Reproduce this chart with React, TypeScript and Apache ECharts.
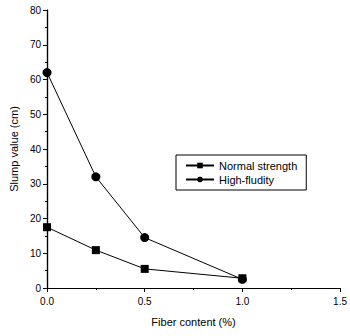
import React, { useEffect, useRef } from "react";
import * as echarts from "echarts";

const fiberContent = [0, 0.25, 0.5, 1.0];
const normalStrength = [17.5, 10.9, 5.5, 2.8];
const highFludity = [62, 32, 14.5, 2.5];

export default function App() {
  const ref = useRef<HTMLDivElement>(null);
  useEffect(() => {
    const chart = echarts.init(ref.current!, undefined, { renderer: "svg" });
    const font = "Liberation Sans";
    const axisCommon = {
      axisLine: { lineStyle: { color: "#000", width: 1.2 } },
      splitLine: { show: false },
    };
    chart.setOption({
      animation: false,
      textStyle: { fontFamily: font },
      grid: { left: 42, right: 7, top: 10, bottom: 48 },
      legend: {
        left: 176,
        top: 155,
        orient: "vertical",
        backgroundColor: "#fff",
        borderColor: "#000",
        borderWidth: 1,
        borderRadius: 0,
        padding: [5, 9, 5, 9],
        itemGap: 3,
        itemWidth: 28,
        itemHeight: 7,
        textStyle: { fontFamily: font, fontSize: 11, color: "#000", height: 13 },
        data: ["Normal strength", "High-fludity"],
      },
      xAxis: [
        {
          type: "value",
          min: 0,
          max: 1.5,
          interval: 0.5,
          name: "Fiber content (%)",
          nameLocation: "middle",
          nameGap: 28,
          nameTextStyle: { fontFamily: font, fontSize: 11, color: "#000" },
          axisLabel: {
            color: "#000",
            fontSize: 10,
            fontFamily: font,
            formatter: (v: number) => v.toFixed(1),
            margin: 8,
          },
          axisTick: { show: true, inside: false, length: 4, lineStyle: { color: "#000" } },
          minorTick: { show: true, splitNumber: 2, length: 2, lineStyle: { color: "#000" } },
          ...axisCommon,
        },
        {
          type: "value",
          position: "top",
          min: 0,
          max: 1.5,
          interval: 0.5,
          axisLabel: { show: false },
          axisTick: { show: true, inside: true, length: 4, lineStyle: { color: "#000" } },
          minorTick: { show: true, splitNumber: 2, length: 2, lineStyle: { color: "#000" } },
          ...axisCommon,
        },
      ],
      yAxis: [
        {
          type: "value",
          min: 0,
          max: 80,
          interval: 10,
          name: "Slump value (cm)",
          nameLocation: "middle",
          nameGap: 25,
          nameTextStyle: { fontFamily: font, fontSize: 11, color: "#000" },
          axisLabel: { color: "#000", fontSize: 10, fontFamily: font, margin: 6 },
          axisTick: { show: true, inside: false, length: 4, lineStyle: { color: "#000" } },
          minorTick: { show: true, splitNumber: 2, length: 2, lineStyle: { color: "#000" } },
          ...axisCommon,
        },
        {
          type: "value",
          position: "right",
          min: 0,
          max: 80,
          interval: 10,
          axisLabel: { show: false },
          axisTick: { show: true, inside: true, length: 4, lineStyle: { color: "#000" } },
          minorTick: { show: true, splitNumber: 2, length: 2, lineStyle: { color: "#000" } },
          ...axisCommon,
        },
      ],
      series: [
        {
          name: "Normal strength",
          type: "line",
          symbol: "rect",
          symbolSize: 8,
          lineStyle: { color: "#000", width: 1 },
          itemStyle: { color: "#000" },
          data: fiberContent.map((x, i) => [x, normalStrength[i]]),
        },
        {
          name: "High-fludity",
          type: "line",
          symbol: "circle",
          symbolSize: 9,
          lineStyle: { color: "#000", width: 1 },
          itemStyle: { color: "#000" },
          data: fiberContent.map((x, i) => [x, highFludity[i]]),
        },
      ],
    });
    return () => chart.dispose();
  }, []);
  return (
    <div
      ref={ref}
      style={{ position: "absolute", left: 0, top: 0, width: 350, height: 336 }}
    />
  );
}
